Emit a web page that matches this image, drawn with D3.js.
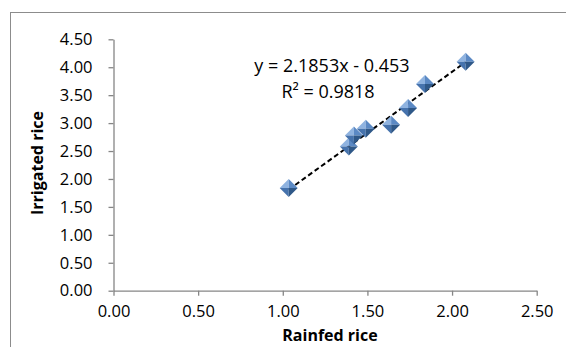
<!DOCTYPE html>
<html><head><meta charset="utf-8">
<script src="https://cdn.jsdelivr.net/npm/d3@7"></script>
<style>body{margin:0;background:#fff} svg{display:block}</style>
</head><body><svg id="c" width="566" height="347"></svg>
<script>
// ---- data ----
const rainfed   = [1.035, 1.39, 1.42, 1.49, 1.64, 1.74, 1.84, 2.08];
const irrigated = [1.84, 2.58, 2.78, 2.90, 2.97, 3.27, 3.70, 4.10];
const xTicks = [0, 0.5, 1, 1.5, 2, 2.5];
const yTicks = [0, 0.5, 1, 1.5, 2, 2.5, 3, 3.5, 4, 4.5];
const slope = 2.1853, intercept = -0.453, r2 = 0.9818;
const eqLabel = "y = 2.1853x - 0.453";
const r2Label = "R\u00B2 = 0.9818";
const xTitle = "Rainfed rice", yTitle = "Irrigated rice";

// ---- drawing ----
const svg = d3.select("#c");
svg.append("rect").attr("width",566).attr("height",347).attr("fill","#fff");
// chart area border (extends beyond right/bottom)
svg.append("rect").attr("x",10.5).attr("y",12.5).attr("width",600).attr("height",400)
  .attr("fill","none").attr("stroke","#8c8c8c").attr("stroke-width",1);

const x = d3.scaleLinear().domain([0,2.5]).range([113.5,536.7]);
const y = d3.scaleLinear().domain([0,4.5]).range([290.7,39.3]);
const font = "'Open Sans', sans-serif";
const axisColor = "#868686";

const gx = svg.append("g").attr("transform","translate(0,290.7)")
  .call(d3.axisBottom(x).tickValues(xTicks).tickFormat(d3.format(".2f")).tickSize(5).tickSizeOuter(0).tickPadding(10));
const gy = svg.append("g").attr("transform","translate(113.5,0)")
  .call(d3.axisLeft(y).tickValues(yTicks).tickFormat(d3.format(".2f")).tickSize(5).tickSizeOuter(0).tickPadding(16));
[gx,gy].forEach(g=>{
  g.select(".domain").attr("stroke",axisColor).attr("stroke-width",1.3);
  g.selectAll(".tick line").attr("stroke",axisColor).attr("stroke-width",1.3);
  g.selectAll(".tick text").attr("fill","#000").style("font-family",font).style("font-size","16.5px");
});

// trendline from equation
const xMin = d3.min(rainfed), xMax = d3.max(rainfed);
svg.append("line")
  .attr("x1",x(xMin)).attr("y1",y(slope*xMin+intercept))
  .attr("x2",x(xMax)).attr("y2",y(slope*xMax+intercept))
  .attr("stroke","#000").attr("stroke-width",2).attr("stroke-dasharray","5,3");

// pyramid diamond markers
const h = 9;
const faces = [
  {pts:[[0,-h],[-h,0],[0,0]], c:"#8fb3e0"},
  {pts:[[0,-h],[h,0],[0,0]],  c:"#5b89c4"},
  {pts:[[-h,0],[0,h],[0,0]],  c:"#4673ad"},
  {pts:[[h,0],[0,h],[0,0]],   c:"#2f5888"}
];
const pts = rainfed.map((v,i)=>({x:v,y:irrigated[i]}));
const m = svg.append("g").selectAll("g").data(pts).join("g")
  .attr("transform",d=>`translate(${x(d.x)},${y(d.y)})`);
faces.forEach(f=>{
  m.append("path").attr("d","M"+f.pts.map(p=>p.join(",")).join("L")+"Z").attr("fill",f.c);
});

// equation labels
svg.append("text").attr("x",332).attr("y",71.5).attr("text-anchor","middle")
  .style("font-family",font).style("font-size","18px").text(eqLabel);
svg.append("text").attr("x",328).attr("y",98).attr("text-anchor","middle")
  .style("font-family",font).style("font-size","18px").text(r2Label);

// axis titles
svg.append("text").attr("x",330).attr("y",341).attr("text-anchor","middle")
  .style("font-family",font).style("font-size","16px").style("font-weight","bold").text(xTitle);
svg.append("text").attr("transform","translate(43,163) rotate(-90)").attr("text-anchor","middle")
  .style("font-family",font).style("font-size","16px").style("font-weight","bold").text(yTitle);
</script></body></html>
